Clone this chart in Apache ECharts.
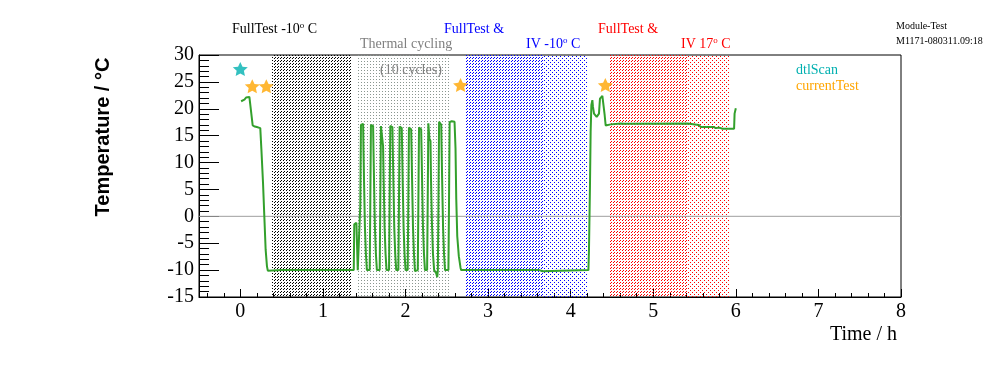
<!DOCTYPE html>
<html><head><meta charset="utf-8">
<script src="https://cdn.jsdelivr.net/npm/echarts@6/dist/echarts.min.js"></script>
<style>html,body{margin:0;padding:0;background:#fff}#c{width:996px;height:372px}</style>
</head><body><div id="c"></div>
<script>
// ---------- data ----------
var temperature = [
  [0.01, 21.4], [0.03, 21.6], [0.05, 21.7], [0.07, 22.1], [0.09, 22.4], [0.11, 22.2], [0.128, 21.9],
  [0.15, 16.9], [0.175, 16.7], [0.2, 16.6], [0.242, 16.4], [0.255, 12.6], [0.275, 6.3], [0.291, 0],
  [0.307, -6.2], [0.323, -9.3], [0.333, -10.1], [0.5, -10.0], [0.52, -9.8], [0.55, -10.0],
  [1.17, -10.0], [1.19, -9.8], [1.22, -10.0], [1.24, -10.2], [1.27, -10.0], [1.374, -10.0],
  [1.38, -1.5], [1.406, -1.2], [1.415, -6], [1.422, -10],
  [1.446, -10], [1.453, 2], [1.461, 17], [1.487, 17.2], [1.491, 13], [1.499, 6], [1.509, -2], [1.521, -7], [1.533, -10],
  [1.567, -10], [1.574, 2], [1.582, 17], [1.608, 16.8], [1.612, 13], [1.62, 6], [1.63, -2], [1.642, -7], [1.654, -10],
  [1.688, -10], [1.695, 2], [1.703, 16.8], [1.725, 16.6], [1.729, 13], [1.737, 6], [1.747, -2], [1.759, -7], [1.771, -10],
  [1.801, -10], [1.808, 2], [1.816, 16.8], [1.842, 16.6], [1.846, 13], [1.854, 6], [1.864, -2], [1.876, -7], [1.888, -10],
  [1.914, -10], [1.921, 2], [1.929, 16.7], [1.955, 16.4], [1.959, 13], [1.967, 6], [1.977, -2], [1.989, -7], [2.001, -10],
  [2.027, -10], [2.034, 2], [2.042, 16.5], [2.069, 16.2], [2.073, 13], [2.081, 6], [2.091, -2], [2.103, -7], [2.115, -10.2],
  [2.149, -10], [2.156, 2], [2.164, 16.5], [2.19, 16.2], [2.194, 13], [2.202, 6], [2.212, -2], [2.224, -7], [2.236, -10],
  [2.262, -10], [2.269, 2], [2.277, 17.3], [2.285, 17], [2.29, 14.4], [2.303, 14], [2.309, 7], [2.32, -1], [2.333, -7],
  [2.347, -10], [2.37, -10.5], [2.385, -11.3], [2.392, -10],
  [2.399, 2], [2.407, 17.6], [2.433, 17], [2.437, 13], [2.445, 6], [2.455, -2], [2.467, -7], [2.479, -10],
  [2.52, -10], [2.527, 2], [2.535, 17.5], [2.56, 17.7], [2.594, 17.6],
  [2.606, 12.6], [2.615, 3.2], [2.627, -3.7], [2.646, -7.4],
  [2.667, -9.6], [2.675, -10], [3.62, -10], [3.635, -10.2], [3.66, -10.2], [3.67, -10],
  [4.215, -10], [4.222, -6.2], [4.234, 5.7], [4.242, 15.7], [4.251, 20.7], [4.263, 21.6],
  [4.27, 20.4], [4.283, 19.1], [4.315, 18.5], [4.343, 19.1], [4.355, 21.9], [4.384, 22.4],
  [4.404, 22.3], [4.412, 18.8], [4.424, 16.9], [4.445, 16.6], [4.485, 17.1], [4.505, 17.25],
  [4.606, 17.25], [4.627, 17.1], [4.65, 17.2], [5.415, 17.25], [5.43, 17.0], [5.552, 17.0],
  [5.576, 16.6], [5.733, 16.6], [5.758, 16.4], [5.798, 16.5], [5.839, 16.3], [5.979, 16.3],
  [5.985, 19.1], [6.0, 20.1]
];
var dtlScanPoints = [[0.0, 27.4]];
var currentTestPoints = [[0.145, 24.2], [0.315, 24.2], [2.667, 24.4], [4.42, 24.4]];
var zeroLine = [[-0.5, 0], [8, 0]];
var shadeStart = [0.388, 1.406, 2.715, 3.665, 4.473, 5.41];
var shadeEnd   = [1.337, 2.533, 3.665, 4.202, 5.41, 5.931];
var shadeKind  = ['hatchBlack', 'dotGray', 'hatchBlue', 'dotBlue', 'hatchRed', 'dotRed'];
var xTicks = [0, 1, 2, 3, 4, 5, 6, 7, 8];
var xMinorTicks = [-0.4, -0.2, 0.2, 0.4, 0.6, 0.8, 1.2, 1.4, 1.6, 1.8, 2.2, 2.4, 2.6, 2.8,
  3.2, 3.4, 3.6, 3.8, 4.2, 4.4, 4.6, 4.8, 5.2, 5.4, 5.6, 5.8, 6.2, 6.4, 6.6, 6.8,
  7.2, 7.4, 7.6, 7.8];

// ---------- styling ----------
var GREEN = '#33a02c', TEAL = '#00b0b0', ORANGE = '#ffa500';
var SERIF = 'Liberation Serif';
function makePattern(color, size, pixels) {
  var c = document.createElement('canvas');
  c.width = size; c.height = size;
  var g = c.getContext('2d');
  g.fillStyle = color;
  pixels.forEach(function (p) { g.fillRect(p[0], p[1], 1, 1); });
  return { image: c, repeat: 'repeat' };
}
var hatchPx = [[2, 0], [1, 1]];
var dotPx = [[0, 0], [2, 2]];
var patterns = {
  hatchBlack: makePattern('#000', 3, hatchPx),
  dotGray: makePattern('#8a9690', 3, [[1, 1]]),
  hatchBlue: makePattern('#0000ff', 3, hatchPx),
  dotBlue: makePattern('#0000ff', 4, dotPx),
  hatchRed: makePattern('#ff0000', 3, hatchPx),
  dotRed: makePattern('#ff0000', 4, dotPx)
};
var STAR = 'path://M50,0L64.11,30.58L97.55,34.55L72.83,57.42L79.39,90.45L50,74L20.61,90.45L27.17,57.42L2.45,34.55L35.89,30.58Z';

function label(x, y, text, color, size, align) {
  return { type: 'text', x: x, y: y, silent: true, z: 100,
    style: { text: text, fill: color, font: size + 'px "' + SERIF + '"',
      align: align || 'left', verticalAlign: 'middle' } };
}
function degLabel(x, y, pre, post, color) {
  return { type: 'text', x: x, y: y, silent: true, z: 100,
    style: { text: '{a|' + pre + '}{s|o}{a|' + post + '}', fill: color,
      align: 'left', verticalAlign: 'middle',
      rich: {
        a: { fontSize: 14, fontFamily: SERIF, fill: color, lineHeight: 16 },
        s: { fontSize: 9, fontFamily: SERIF, fill: color, lineHeight: 9, verticalAlign: 'top' }
      } } };
}

var chart = echarts.init(document.getElementById('c'), null, { renderer: 'canvas' });
chart.setOption({
  animation: false,
  backgroundColor: '#fff',
  grid: { left: 199, right: 95, top: 55, bottom: 75, show: true, borderColor: '#000', borderWidth: 1, backgroundColor: 'transparent' },
  legend: {
    orient: 'vertical', left: 786, top: 58, itemWidth: 0, itemHeight: 0, itemGap: 2,
    selectedMode: false,
    textStyle: { fontFamily: SERIF, fontSize: 14 },
    data: [
      { name: 'dtlScan', textStyle: { color: TEAL } },
      { name: 'currentTest', textStyle: { color: ORANGE } }
    ]
  },
  xAxis: [{
    type: 'value', min: -0.5, max: 8, position: 'bottom',
    axisLine: { show: true, onZero: false, lineStyle: { color: '#000', width: 1 } },
    axisTick: { show: true, inside: true, length: 8, customValues: xTicks, lineStyle: { color: '#000' } },
    axisLabel: { customValues: xTicks, fontFamily: SERIF, fontSize: 20, color: '#000', margin: 5 },
    splitLine: { show: false }
  }, {
    type: 'value', min: -0.5, max: 8, position: 'bottom',
    axisLine: { show: false, onZero: false },
    axisTick: { show: true, inside: true, length: 4, customValues: xMinorTicks, lineStyle: { color: '#000' } },
    axisLabel: { show: false },
    splitLine: { show: false }
  }],
  yAxis: {
    type: 'value', min: -15, max: 30, interval: 5,
    axisLine: { show: true, onZero: false, lineStyle: { color: '#000', width: 1 } },
    axisTick: { show: true, inside: true, length: 20, lineStyle: { color: '#000' } },
    minorTick: { show: true, splitNumber: 5, length: 10, lineStyle: { color: '#000' } },
    axisLabel: { fontFamily: SERIF, fontSize: 20, color: '#000', margin: 5 },
    splitLine: { show: false }
  },
  series: [{
    type: 'custom', name: 'shading', silent: true, z: 1,
    data: shadeStart.map(function (s, i) { return [s, shadeEnd[i]]; }),
    encode: { x: [0, 1] },
    renderItem: function (params, api) {
      var p0 = api.coord([api.value(0), 30]);
      var p1 = api.coord([api.value(1), -15]);
      return { type: 'rect',
        shape: { x: Math.round(p0[0]), y: p0[1], width: Math.round(p1[0]) - Math.round(p0[0]), height: p1[1] - p0[1] },
        style: { fill: patterns[shadeKind[params.dataIndex]] } };
    }
  }, {
    type: 'line', name: 'zero', data: zeroLine, showSymbol: false, silent: true, z: 2,
    lineStyle: { color: '#a0a0a0', width: 1 }
  }, {
    type: 'line', name: 'Temperature', data: temperature, showSymbol: false, z: 3,
    lineStyle: { color: GREEN, width: 2 }
  }, {
    type: 'scatter', name: 'dtlScan', data: dtlScanPoints, symbol: STAR, symbolSize: [15, 14], z: 4,
    itemStyle: { color: TEAL }
  }, {
    type: 'scatter', name: 'currentTest', data: currentTestPoints, symbol: STAR, symbolSize: [15, 14], z: 4,
    itemStyle: { color: ORANGE }
  }],
  graphic: [
    degLabel(232, 29.5, 'FullTest -10', ' C', '#000'),
    label(360, 44, 'Thermal cycling', '#808080', 14),
    label(380, 70, '(10 cycles)', '#808080', 14),
    label(444, 29.5, 'FullTest &', '#0000ff', 14),
    degLabel(526, 44, 'IV -10', ' C', '#0000ff'),
    label(598, 29.5, 'FullTest &', '#ff0000', 14),
    degLabel(681, 44, 'IV 17', ' C', '#ff0000'),
    label(896, 26, 'Module-Test', '#000', 10),
    label(896, 41, 'M1171-080311.09:18', '#000', 10),
    label(897, 335, 'Time / h', '#000', 20, 'right'),
    { type: 'text', x: 103, y: 137, rotation: Math.PI / 2, silent: true, z: 100,
      style: { text: 'Temperature / °C', fill: '#000', font: 'bold 20px "Liberation Sans"',
        align: 'center', verticalAlign: 'middle' } }
  ]
});
</script></body></html>
